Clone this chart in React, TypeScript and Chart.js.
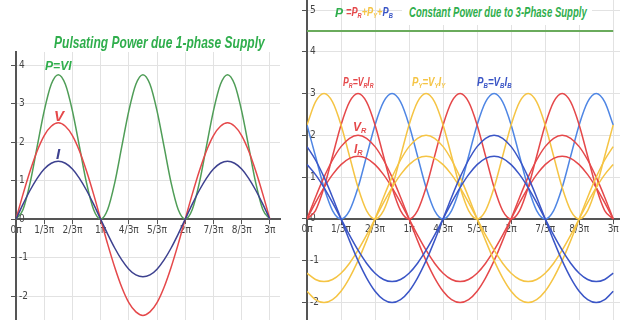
import React, { useEffect, useLayoutEffect, useRef } from 'react';
import { Chart, registerables } from 'chart.js';

Chart.register(...registerables);

// x positions in units of π/3 (0 … 9 = 0 … 3π)
const xSteps = [0, 0.25, 0.5, 0.75, 1, 1.25, 1.5, 1.75, 2, 2.25, 2.5, 2.75, 3, 3.25, 3.5, 3.75, 4, 4.25, 4.5, 4.75, 5, 5.25, 5.5, 5.75, 6, 6.25, 6.5, 6.75, 7, 7.25, 7.5, 7.75, 8, 8.25, 8.5, 8.75, 9];
const xTickValues = [0, 1, 2, 3, 4, 5, 6, 7, 8, 9];
const xTickLabels = ['0π', '1/3π', '2/3π', '1π', '4/3π', '5/3π', '2π', '7/3π', '8/3π', '3π'];
const yTicksLeft = [-2, -1, 0, 1, 2, 3, 4];
const yTicksRight = [-2, -1, 0, 1, 2, 3, 4, 5];

// single phase
const voltage1 = [0, 0.65, 1.25, 1.77, 2.17, 2.41, 2.5, 2.41, 2.17, 1.77, 1.25, 0.65, 0, -0.65, -1.25, -1.77, -2.17, -2.41, -2.5, -2.41, -2.17, -1.77, -1.25, -0.65, 0, 0.65, 1.25, 1.77, 2.17, 2.41, 2.5, 2.41, 2.17, 1.77, 1.25, 0.65, 0];
const current1 = [0, 0.39, 0.75, 1.06, 1.3, 1.45, 1.5, 1.45, 1.3, 1.06, 0.75, 0.39, 0, -0.39, -0.75, -1.06, -1.3, -1.45, -1.5, -1.45, -1.3, -1.06, -0.75, -0.39, 0, 0.39, 0.75, 1.06, 1.3, 1.45, 1.5, 1.45, 1.3, 1.06, 0.75, 0.39, 0];
const power1 = [0, 0.25, 0.94, 1.88, 2.81, 3.5, 3.75, 3.5, 2.81, 1.88, 0.94, 0.25, 0, 0.25, 0.94, 1.88, 2.81, 3.5, 3.75, 3.5, 2.81, 1.88, 0.94, 0.25, 0, 0.25, 0.94, 1.88, 2.81, 3.5, 3.75, 3.5, 2.81, 1.88, 0.94, 0.25, 0];

// three phase
const vR = [0, 0.52, 1, 1.41, 1.73, 1.93, 2, 1.93, 1.73, 1.41, 1, 0.52, 0, -0.52, -1, -1.41, -1.73, -1.93, -2, -1.93, -1.73, -1.41, -1, -0.52, 0, 0.52, 1, 1.41, 1.73, 1.93, 2, 1.93, 1.73, 1.41, 1, 0.52, 0];
const vY = [-1.73, -1.93, -2, -1.93, -1.73, -1.41, -1, -0.52, 0, 0.52, 1, 1.41, 1.73, 1.93, 2, 1.93, 1.73, 1.41, 1, 0.52, 0, -0.52, -1, -1.41, -1.73, -1.93, -2, -1.93, -1.73, -1.41, -1, -0.52, 0, 0.52, 1, 1.41, 1.73];
const vB = [1.73, 1.41, 1, 0.52, 0, -0.52, -1, -1.41, -1.73, -1.93, -2, -1.93, -1.73, -1.41, -1, -0.52, 0, 0.52, 1, 1.41, 1.73, 1.93, 2, 1.93, 1.73, 1.41, 1, 0.52, 0, -0.52, -1, -1.41, -1.73, -1.93, -2, -1.93, -1.73];
const iR = [0, 0.39, 0.75, 1.06, 1.3, 1.45, 1.5, 1.45, 1.3, 1.06, 0.75, 0.39, 0, -0.39, -0.75, -1.06, -1.3, -1.45, -1.5, -1.45, -1.3, -1.06, -0.75, -0.39, 0, 0.39, 0.75, 1.06, 1.3, 1.45, 1.5, 1.45, 1.3, 1.06, 0.75, 0.39, 0];
const iY = [-1.3, -1.45, -1.5, -1.45, -1.3, -1.06, -0.75, -0.39, 0, 0.39, 0.75, 1.06, 1.3, 1.45, 1.5, 1.45, 1.3, 1.06, 0.75, 0.39, 0, -0.39, -0.75, -1.06, -1.3, -1.45, -1.5, -1.45, -1.3, -1.06, -0.75, -0.39, 0, 0.39, 0.75, 1.06, 1.3];
const iB = [1.3, 1.06, 0.75, 0.39, 0, -0.39, -0.75, -1.06, -1.3, -1.45, -1.5, -1.45, -1.3, -1.06, -0.75, -0.39, 0, 0.39, 0.75, 1.06, 1.3, 1.45, 1.5, 1.45, 1.3, 1.06, 0.75, 0.39, 0, -0.39, -0.75, -1.06, -1.3, -1.45, -1.5, -1.45, -1.3];
const pR = [0, 0.2, 0.75, 1.5, 2.25, 2.8, 3, 2.8, 2.25, 1.5, 0.75, 0.2, 0, 0.2, 0.75, 1.5, 2.25, 2.8, 3, 2.8, 2.25, 1.5, 0.75, 0.2, 0, 0.2, 0.75, 1.5, 2.25, 2.8, 3, 2.8, 2.25, 1.5, 0.75, 0.2, 0];
const pY = [2.25, 2.8, 3, 2.8, 2.25, 1.5, 0.75, 0.2, 0, 0.2, 0.75, 1.5, 2.25, 2.8, 3, 2.8, 2.25, 1.5, 0.75, 0.2, 0, 0.2, 0.75, 1.5, 2.25, 2.8, 3, 2.8, 2.25, 1.5, 0.75, 0.2, 0, 0.2, 0.75, 1.5, 2.25];
const pB = [2.25, 1.5, 0.75, 0.2, 0, 0.2, 0.75, 1.5, 2.25, 2.8, 3, 2.8, 2.25, 1.5, 0.75, 0.2, 0, 0.2, 0.75, 1.5, 2.25, 2.8, 3, 2.8, 2.25, 1.5, 0.75, 0.2, 0, 0.2, 0.75, 1.5, 2.25, 2.8, 3, 2.8, 2.25];
const pTotalX = [0, 9];
const pTotal = [4.5, 4.5];

const C = {
  green: '#4f9d57',
  greenText: '#2fae4c',
  red: '#e5484a',
  navy: '#3d418f',
  yellow: '#f5c444',
  blueP: '#4f86e4',
  blueV: '#3a55c6',
  grid: '#e2e2e2',
  axis: '#555555',
  tick: '#444444',
};

const tickFont = { family: '"Liberation Sans Narrow", "DejaVu Sans Condensed", sans-serif', size: 10 };

function pts(xs: number[], ys: number[]) {
  return ys.map((y, i) => ({ x: xs[i], y }));
}

function line(label: string, xs: number[], ys: number[], color: string, width = 1.5) {
  return {
    label,
    data: pts(xs, ys),
    borderColor: color,
    backgroundColor: color,
    borderWidth: width,
    pointRadius: 0,
    fill: false,
    cubicInterpolationMode: 'monotone' as const,
  };
}

function makeOptions(xMax: number, yMin: number, yMax: number, yTicks: number[], padLeft: number, padTop: number, padRight: number) {
  return {
    animation: false as const,
    responsive: false,
    maintainAspectRatio: false,
    events: [] as any[],
    layout: { padding: { left: padLeft, top: padTop, right: padRight, bottom: 0 } },
    plugins: { legend: { display: false }, tooltip: { enabled: false }, title: { display: false } },
    scales: {
      x: {
        type: 'linear' as const,
        min: 0,
        max: xMax,
        position: { y: 0 },
        afterBuildTicks: (s: any) => { s.ticks = xTickValues.map((v) => ({ value: v })); },
        afterFit: (s: any) => { s.paddingLeft = 0; s.paddingRight = 0; s.paddingTop = 0; s.paddingBottom = 0; },
        ticks: {
          autoSkip: false,
          maxRotation: 0,
          padding: 1,
          color: C.tick,
          font: tickFont,
          callback: (v: any) => xTickLabels[xTickValues.indexOf(Number(v))] ?? '',
        },
        grid: { color: C.grid, lineWidth: 1, tickColor: C.axis, tickLength: 4, drawTicks: true },
        border: { color: C.axis, width: 2 },
      },
      y: {
        type: 'linear' as const,
        position: 'left' as const,
        min: yMin,
        max: yMax,
        afterBuildTicks: (s: any) => { s.ticks = yTicks.map((v) => ({ value: v })); },
        afterFit: (s: any) => { s.width = 5; s.paddingTop = 0; s.paddingBottom = 0; },
        ticks: { mirror: true, padding: 3, color: C.tick, font: tickFont },
        grid: { color: C.grid, lineWidth: 1, tickColor: C.axis, tickLength: 5, drawTicks: true },
        border: { color: C.axis, width: 2 },
      },
    },
  };
}

function ChartCanvas({ left, width, config }: { left: number; width: number; config: () => any }) {
  const ref = useRef<HTMLCanvasElement>(null);
  useEffect(() => {
    if (!ref.current) return;
    const chart = new Chart(ref.current, config());
    return () => chart.destroy();
  }, []);
  return (
    <canvas
      ref={ref}
      width={width}
      height={320}
      style={{ position: 'absolute', left, top: 0, width, height: 320, display: 'block' }}
    />
  );
}

function Label({ x, y, w, style, children }: { x: number; y: number; w?: number; style: React.CSSProperties; children: React.ReactNode }) {
  const ref = useRef<HTMLDivElement>(null);
  useLayoutEffect(() => {
    const el = ref.current;
    if (!el || !w) return;
    const nat = el.scrollWidth;
    if (nat > 0) el.style.transform = `translateY(-50%) scaleX(${w / nat})`;
  }, []);
  return (
    <div
      ref={ref}
      style={{
        position: 'absolute',
        left: x,
        top: y,
        whiteSpace: 'nowrap',
        lineHeight: 1,
        transformOrigin: 'left center',
        transform: 'translateY(-50%)',
        fontFamily: '"Liberation Sans", Arial, sans-serif',
        fontStyle: 'italic',
        fontWeight: 700,
        ...style,
      }}
    >
      {children}
    </div>
  );
}

const subStyle: React.CSSProperties = { fontSize: '0.62em', verticalAlign: '-0.22em' };

export default function App() {
  const leftConfig = () => ({
    type: 'line',
    data: {
      datasets: [
        line('I', xSteps, current1, C.navy),
        line('V', xSteps, voltage1, C.red),
        line('P=VI', xSteps, power1, C.green),
      ],
    },
    options: makeOptions(9.36, -2.62, 4.34, yTicksLeft, 11, 52, 10),
  });

  const rightConfig = () => ({
    type: 'line',
    data: {
      datasets: [
        line('I_B', xSteps, iB, C.blueV),
        line('V_B', xSteps, vB, C.blueV),
        line('I_Y', xSteps, iY, C.yellow),
        line('V_Y', xSteps, vY, C.yellow),
        line('I_R', xSteps, iR, C.red),
        line('V_R', xSteps, vR, C.red),
        line('P_Y', xSteps, pY, C.yellow),
        line('P_R', xSteps, pR, C.red),
        line('P_B', xSteps, pB, C.blueP),
        line('P', pTotalX, pTotal, '#6aab5c', 2),
      ],
    },
    options: makeOptions(9.2, -2.42, 5.24, yTicksRight, 12, 0, 0),
  });

  return (
    <div style={{ position: 'fixed', left: 0, top: 0, width: 620, height: 320, overflow: 'hidden', background: '#ffffff' }}>
      <ChartCanvas left={0} width={290} config={leftConfig} />
      <ChartCanvas left={290} width={330} config={rightConfig} />

      {/* left chart texts */}
      <Label x={54} y={42} w={211} style={{ color: C.greenText, fontSize: 17 }}>Pulsating Power due 1-phase Supply</Label>
      <Label x={45} y={65} w={27} style={{ color: C.greenText, fontSize: 13 }}>P=VI</Label>
      <Label x={54} y={115} style={{ color: C.red, fontSize: 15 }}>V</Label>
      <Label x={56} y={153} style={{ color: C.navy, fontSize: 15 }}>I</Label>

      {/* right chart texts */}
      <div style={{ position: 'absolute', left: 402, top: 0, width: 190, height: 25, background: '#ffffff' }} />
      <Label x={409} y={12} w={178} style={{ color: C.greenText, fontSize: 14, fontWeight: 600 }}>Constant Power due to 3-Phase Supply</Label>
      <Label x={335} y={13} style={{ color: C.greenText, fontSize: 12 }}>P</Label>
      <Label x={346} y={13} w={47} style={{ fontSize: 12 }}>
        <span style={{ color: C.red }}>=P<sub style={subStyle}>R</sub></span>
        <span style={{ color: C.yellow }}>+P<sub style={subStyle}>Y</sub>+</span>
        <span style={{ color: C.blueV }}>P<sub style={subStyle}>B</sub></span>
      </Label>
      <Label x={343} y={83} w={31} style={{ color: C.red, fontSize: 12 }}>
        P<sub style={subStyle}>R</sub>=V<sub style={subStyle}>R</sub>I<sub style={subStyle}>R</sub>
      </Label>
      <Label x={412} y={83} w={33} style={{ color: C.yellow, fontSize: 12 }}>
        P<sub style={subStyle}>Y</sub>=V<sub style={subStyle}>Y</sub>I<sub style={subStyle}>Y</sub>
      </Label>
      <Label x={477} y={83} w={35} style={{ color: C.blueV, fontSize: 12 }}>
        P<sub style={subStyle}>B</sub>=V<sub style={subStyle}>B</sub>I<sub style={subStyle}>B</sub>
      </Label>
      <Label x={353} y={128} style={{ color: C.red, fontSize: 12 }}>
        V<sub style={subStyle}>R</sub>
      </Label>
      <Label x={354} y={150} style={{ color: C.red, fontSize: 12 }}>
        I<sub style={subStyle}>R</sub>
      </Label>
    </div>
  );
}
